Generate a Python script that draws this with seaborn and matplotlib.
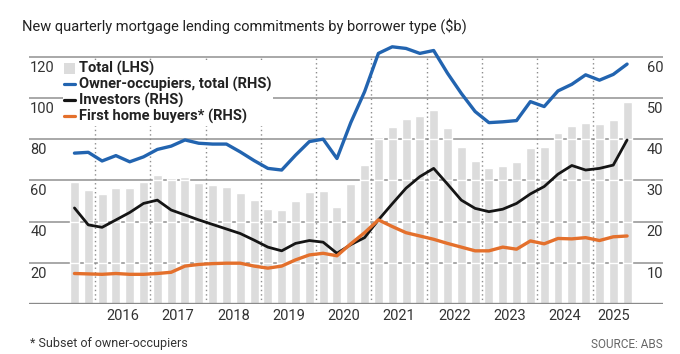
import matplotlib
matplotlib.use("Agg")
import matplotlib.pyplot as plt
import matplotlib.transforms as mtrans
from matplotlib.lines import Line2D
from matplotlib.patches import Patch
import numpy as np
import pandas as pd
import seaborn as sns

# quarterly data, Sep 2015 .. Sep 2025 ($b)
quarters = pd.period_range("2015Q3", "2025Q3", freq="Q")
total = [59.3, 55.3, 53.2, 56.1, 56.4, 59.3, 62.6, 61.0, 61.5, 58.8,
         57.7, 56.7, 54.0, 50.3, 46.2, 45.4, 50.0, 54.5, 54.7, 47.0,
         58.2, 67.3, 81.0, 85.9, 89.6, 91.2, 94.1, 85.6, 76.3, 69.2,
         66.2, 67.1, 69.0, 75.5, 76.2, 83.1, 86.4, 88.0, 87.3, 89.3,
         97.9]
owner_occ = [36.6, 36.8, 34.7, 36.0, 34.5, 35.7, 37.5, 38.3, 39.8, 39.0,
             38.8, 38.8, 36.9, 34.8, 32.9, 32.5, 36.1, 39.4, 40.0, 35.3,
             44.0, 51.5, 60.8, 62.4, 62.0, 60.8, 61.5, 56.0, 51.1, 46.7,
             44.0, 44.2, 44.5, 49.1, 47.9, 51.7, 53.3, 55.6, 54.3, 55.7,
             58.2]
investors = [23.3, 19.2, 18.6, 20.4, 22.2, 24.4, 25.2, 22.8, 21.6, 20.4,
             19.3, 18.2, 17.1, 15.5, 13.8, 12.9, 14.7, 15.4, 15.0, 12.3,
             14.4, 16.1, 20.4, 24.3, 28.1, 30.9, 32.9, 29.1, 25.2, 23.2,
             22.4, 23.0, 24.4, 26.7, 28.5, 31.5, 33.6, 32.5, 32.9, 33.7,
             39.8]
first_home = [7.4, 7.3, 7.2, 7.4, 7.2, 7.2, 7.4, 7.7, 9.2, 9.6,
              9.8, 9.9, 9.9, 9.2, 8.7, 9.2, 10.7, 11.9, 12.3, 11.7,
              14.6, 17.3, 20.4, 18.8, 17.3, 16.5, 15.7, 14.7, 13.8, 12.9,
              12.9, 13.8, 13.3, 15.3, 14.6, 15.9, 15.8, 16.1, 15.4, 16.3,
              16.5]
lhs_ticks = [20, 40, 60, 80, 100, 120]
rhs_ticks = [10, 20, 30, 40, 50, 60]
year_labels = [2016, 2017, 2018, 2019, 2020, 2021, 2022, 2023, 2024, 2025]

BLUE = "#2264b0"
BLACK = "#151515"
ORANGE = "#e4702c"
BAR = "#dcdcdc"
GRID = "#a8a8a8"

sns.set_style("white")
plt.rcParams["font.family"] = ["Roboto", "DejaVu Sans"]
plt.rcParams["text.color"] = "#333333"

df = pd.DataFrame({"i": np.arange(len(quarters)), "year": quarters.year,
                   "total": total, "owner": owner_occ,
                   "inv": investors, "fhb": first_home})

fig = plt.figure(figsize=(6.8, 3.54), dpi=100)
ax = fig.add_axes([29 / 680, 50 / 354, 634 / 680, 263.8 / 354])

sns.barplot(data=df, x="i", y="total", color=BAR, width=0.65,
            saturation=1, ax=ax, zorder=2)
ax.set_xlim(-3.29, 42.6)
ax.set_ylim(0, 128)

# gridlines behind bars, white through bars
for t in lhs_ticks:
    ax.axhline(t, color=GRID, lw=1.4, zorder=1)
for p in ax.patches:
    for t in lhs_ticks:
        if t < p.get_height():
            ax.hlines(t, p.get_x(), p.get_x() + p.get_width(),
                      color="white", lw=1.0, zorder=3)
ax.axhline(0, color="#8a8a8a", lw=2.4, zorder=4)

# year dividers and labels
for y in year_labels:
    idx = df.loc[df.year == y, "i"]
    ax.vlines(idx.min() - 0.5, 0, 120, color="#8c8c8c", lw=1.0,
              linestyles=(0, (1, 2.2)), zorder=3)
    ax.text(idx.mean(), -2.6, str(y), ha="center", va="top",
            fontsize=10.5, color="#333333")

ax.set_xticks([])
ax.set_yticks([])
ax.set_xlabel("")
ax.set_ylabel("")
sns.despine(ax=ax, left=True, bottom=True)

ax2 = ax.twinx()
ax2.set_ylim(0, 64)
sns.lineplot(data=df, x="i", y="owner", color=BLUE, lw=2.4, ax=ax2)
sns.lineplot(data=df, x="i", y="inv", color=BLACK, lw=2.0, ax=ax2)
sns.lineplot(data=df, x="i", y="fhb", color=ORANGE, lw=2.4, ax=ax2)
ax2.set_xlim(-3.29, 42.6)
ax2.set_yticks([])
ax2.set_ylabel("")
ax2.set_xlabel("")
sns.despine(ax=ax2, left=True, bottom=True, right=True)

# axis labels sit just below their gridlines
shift = mtrans.offset_copy(ax.get_yaxis_transform(), fig=fig, y=-7.8, units="points")
for t in lhs_ticks:
    ax.text(0.002, t, str(t), transform=shift, ha="left", va="center",
            fontsize=10.5, color="#333333")
shift2 = mtrans.offset_copy(ax2.get_yaxis_transform(), fig=fig, y=-7.8, units="points")
for t in rhs_ticks:
    ax2.text(1.0, t, str(t), transform=shift2, ha="right", va="center",
             fontsize=10.5, color="#333333")

handles = [Patch(facecolor=BAR, edgecolor="none"),
           Line2D([], [], color=BLUE, lw=2.3),
           Line2D([], [], color=BLACK, lw=2.3),
           Line2D([], [], color=ORANGE, lw=2.3)]
labels = ["Total (LHS)", "Owner-occupiers, total (RHS)",
          "Investors (RHS)", "First home buyers* (RHS)"]
leg = ax2.legend(handles, labels, loc="upper left",
                 bbox_to_anchor=(0.053, 0.925), frameon=True,
                 prop={"family": ["Roboto", "DejaVu Sans"], "weight": "bold", "size": 10.5},
                 handlelength=0.75, handleheight=0.8, handletextpad=0.25,
                 labelspacing=0.06, borderpad=0.1, borderaxespad=0)
leg.get_frame().set_facecolor("white")
leg.get_frame().set_edgecolor("none")
leg.get_frame().set_alpha(1)
for txt in leg.get_texts():
    txt.set_color("#222222")

fig.text(22 / 680, 1 - 26 / 354,
         "New quarterly mortgage lending commitments by borrower type ($b)",
         ha="left", va="center", fontsize=10.5, color="#222222")
fig.text(30 / 680, 1 - 343 / 354, "* Subset of owner-occupiers",
         ha="left", va="center", fontsize=9, color="#333333")
fig.text(663 / 680, 1 - 345 / 354, "SOURCE: ABS",
         ha="right", va="center", fontsize=8.5, color="#666666")

fig.savefig("out.png", dpi=100, facecolor="white")
